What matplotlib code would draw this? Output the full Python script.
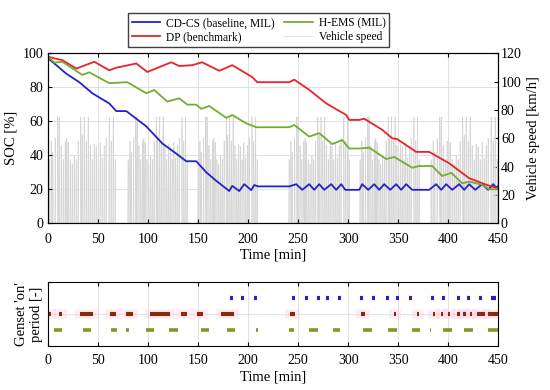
import numpy as np
import matplotlib
matplotlib.use("Agg")
import matplotlib.pyplot as plt

plt.rcParams['font.family'] = ['Liberation Serif', 'DejaVu Serif']

# SOC traces (time [min], SOC [%])
cdcs_t = [0, 6, 18, 31, 44, 61, 68, 78, 98, 114, 128, 138, 148, 158, 168, 181, 184, 191, 196, 203, 206, 210,
          241, 248, 254, 261, 266, 271, 276, 283, 288, 293, 297, 311, 314, 320, 326, 331, 336, 342, 348, 353, 358,
          364, 368, 381, 388, 393, 398, 404, 411, 416, 421, 427, 434, 440, 445, 448, 450]
cdcs_soc = [97, 94, 88, 83, 76.5, 70.5, 66, 66, 57, 47, 41, 36.5, 36.5, 30, 25, 19, 22, 19, 23, 19.5, 22.5, 21.7,
            21.7, 23, 19.7, 23, 19.7, 23, 19.7, 23, 19.7, 23, 19.7, 19.7, 23, 19.7, 23, 19.7, 23, 19.7, 23, 19.7, 23,
            19.7, 19.7, 19.7, 23, 19.7, 23, 19.7, 23, 19.7, 23, 19.7, 23, 19.7, 23, 21, 22]

dp_t = [0, 6, 14, 28, 46, 61, 68, 88, 99, 123, 131, 144, 154, 171, 184, 204, 209, 241, 246, 261, 278, 298, 301,
        311, 316, 334, 344, 349, 368, 381, 401, 421, 438, 450]
dp_soc = [98, 97, 96, 91, 95, 90, 91.5, 94, 89, 94.7, 92.5, 93, 94.7, 89.7, 93, 86, 83, 83, 84.5, 78.5, 70.5, 63.7,
          60.8, 60.8, 61.5, 55, 50, 49.5, 42, 42, 35.3, 26.5, 22.7, 20.5]

hems_t = [0, 6, 14, 34, 41, 61, 79, 98, 106, 119, 131, 139, 148, 153, 161, 178, 184, 198, 208, 241, 246, 261, 271,
          284, 294, 301, 311, 321, 338, 346, 364, 371, 384, 394, 403, 414, 421, 434, 441, 450]
hems_soc = [98, 94.5, 95, 87.3, 88.8, 82.4, 83, 76.5, 78.4, 71.6, 73.5, 69.8, 69.8, 67.3, 69, 62, 63.7, 58.8, 56.5,
            56.5, 57.8, 51, 53, 46.6, 49, 44, 44, 44.5, 37.8, 39, 32.7, 33.7, 33.7, 27.8, 29.7, 23.5, 24.5, 22.7, 20,
            20]

# vehicle speed: one drive-cycle pattern (offset [min], peak [km/h]) repeated in each driving segment
cycle_off = [1, 3, 4.5, 7, 9.5, 11, 13, 15, 17, 18.5, 20, 22, 24, 26, 28, 30, 32.5, 34, 36, 38, 40, 42, 44, 46,
             48, 50, 52, 54, 56, 58, 61, 63, 65, 67]
cycle_kmh = [45, 58, 50, 60, 75, 75, 55, 45, 58, 60, 57, 45, 42, 48, 45, 58, 75, 62, 75, 58, 75, 55, 45, 56,
             54, 45, 57, 46, 55, 60, 75, 58, 75, 45]
seg_start = [0, 79, 149, 240, 311, 382]
seg_end = [68, 140, 210, 302, 372, 450]

# genset 'on' periods (start, end) [min]
cdcs_on = [(182, 185), (192.5, 195.5), (206, 209), (244, 247), (257, 260), (268.5, 271.5), (278, 281), (290, 293),
           (300.4, 301), (312, 315), (324, 327), (338, 341), (348, 351), (360.5, 363.5), (371.4, 372), (382.5, 385.5),
           (394, 397), (408.5, 411.5), (419, 422), (431, 434), (442.5, 447.5)]
dp_on = [(0.5, 3), (11, 14), (32, 45), (62, 68), (78, 84.5), (102, 122), (133, 138.5), (149, 155), (173, 186),
         (241.5, 246.5), (312.5, 316.5), (346, 347.7), (369, 370.4), (385, 386.4), (392.7, 394.4), (400, 401.7),
         (408.4, 411.7), (415, 417.4), (421.7, 423.4), (428.4, 436.7), (440, 450)]
hems_on = [(6, 13.5), (34.5, 42.5), (62.5, 68.5), (78, 80.5), (97.5, 106), (121, 129.5), (152.5, 161), (178.5, 187),
           (207.5, 209.5), (241, 246), (261, 270), (284.5, 292), (315, 323.5), (340, 348.5), (364, 372), (382.2, 382.8),
           (395, 403.5), (416, 424.5), (440, 449.5)]

c_blue = '#2323c4'
c_red = '#e8232b'
c_green = '#77ac30'

fig = plt.figure(figsize=(5.5, 3.9), dpi=100)
ax = fig.add_axes([0.0878, 0.4274, 0.818, 0.436])
ax2 = ax.twinx()

# speed trace
sx, sy = [0.0], [0.0]
for s, e in zip(seg_start, seg_end):
    k = (e - s) / 68.0
    for o, v in zip(cycle_off, cycle_kmh):
        t = s + o * k
        sx += [t - 0.45, t - 0.15, t + 0.15, t + 0.45]
        sy += [0, v, v, 0]
sp_line, = ax2.plot(sx, sy, color='#d6d6d6', lw=0.5)
ax2.set_ylim(0, 120)
ax2.set_yticks(np.arange(0, 121, 20))
ax2.set_ylabel('Vehicle speed [km/h]', fontsize=10.5)
ax2.tick_params(direction='in', labelsize=10, length=3, pad=2)

ax.set_zorder(ax2.get_zorder() + 1)
ax.patch.set_visible(False)
l1, = ax.plot(cdcs_t, cdcs_soc, color=c_blue, lw=1.3)
l2, = ax.plot(dp_t, dp_soc, color=c_red, lw=1.3)
l3, = ax.plot(hems_t, hems_soc, color=c_green, lw=1.3)
ax.set_xlim(0, 450)
ax.set_ylim(0, 100)
ax.set_xticks(np.arange(0, 451, 50))
ax.set_yticks(np.arange(0, 101, 20))
ax.grid(True, color='#dcdcdc', lw=0.6)
ax.tick_params(direction='in', labelsize=10, length=3, top=True)
ax.tick_params(axis='x', pad=7)
ax.set_xlabel('Time [min]', fontsize=10.5, labelpad=2)
ax.set_ylabel('SOC [%]', fontsize=10.5)

fig.legend([l1, l2, l3, sp_line],
           ['CD-CS (baseline, MIL)', 'DP (benchmark)', 'H-EMS (MIL)', 'Vehicle speed'],
           ncol=2, loc='center', bbox_to_anchor=(0.47, 0.923), fontsize=8.3, frameon=True,
           fancybox=False, edgecolor='#404040', framealpha=1, handlelength=2.5,
           columnspacing=0.8, handletextpad=0.5, borderpad=0.3, labelspacing=0.2)

# genset on periods
bx = fig.add_axes([0.0878, 0.1128, 0.818, 0.164])
bx.axhline(2, color='#e6e6e6', lw=0.8, zorder=0)
for a, b in dp_on:
    bx.hlines(2, a - 5, b + 5, color='#ffb0d4', alpha=0.22, lw=7, zorder=1)
for a, b in dp_on:
    bx.hlines(2, a, b, color='#8b2a0a', lw=3, zorder=2)
for a, b in cdcs_on:
    bx.hlines(3, a, b, color=c_blue, lw=3, zorder=2)
for a, b in hems_on:
    bx.hlines(1, a, b, color='#7a9a2a', lw=2.6, zorder=2)
bx.set_xlim(0, 450)
bx.set_ylim(0, 4)
bx.set_yticks([])
bx.set_xticks(np.arange(0, 451, 50))
bx.grid(True, axis='x', color='#dcdcdc', lw=0.6)
bx.tick_params(direction='in', labelsize=10, length=3, top=True)
bx.tick_params(axis='x', pad=6)
bx.set_xlabel('Time [min]', fontsize=10.5, labelpad=2)
bx.set_ylabel("Genset 'on'\nperiod [-]", fontsize=10.5)

fig.savefig('out.png', dpi=100)
